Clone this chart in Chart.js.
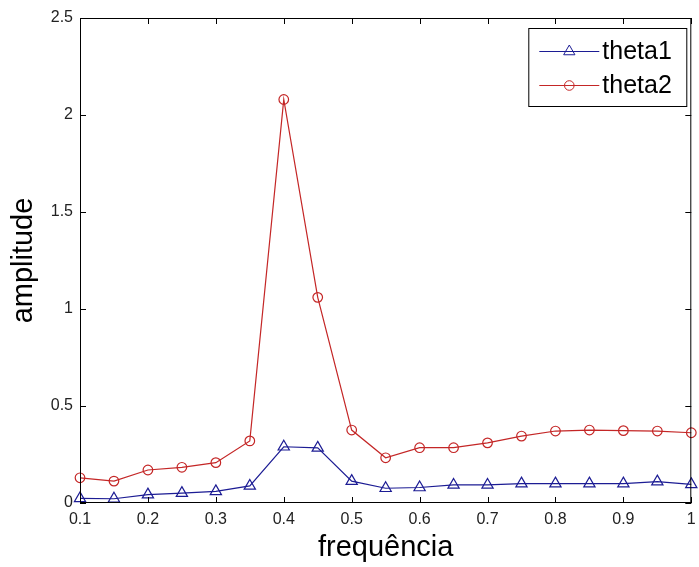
<!DOCTYPE html>
<html>
<head>
<meta charset="utf-8">
<script src="https://cdn.jsdelivr.net/npm/chart.js@4.4.0/dist/chart.umd.min.js"></script>
<style>
    body { margin: 0; background: #fff; }
    #wrap { width: 699px; height: 567px; }
</style>
</head>
<body>
<div id="wrap"><canvas id="grafico" width="699" height="567"></canvas></div>
<script>
// dados
const frequencia = [0.1, 0.15, 0.2, 0.25, 0.3, 0.35, 0.4, 0.45, 0.5, 0.55, 0.6, 0.65, 0.7, 0.75, 0.8, 0.85, 0.9, 0.95, 1.0];
const theta1 = [0.024, 0.022, 0.043, 0.051, 0.06, 0.088, 0.29, 0.284, 0.113, 0.076, 0.08, 0.093, 0.093, 0.1, 0.1, 0.1, 0.1, 0.11, 0.096];
const theta2 = [0.13, 0.113, 0.17, 0.184, 0.208, 0.32, 2.08, 1.06, 0.376, 0.233, 0.285, 0.285, 0.31, 0.345, 0.371, 0.376, 0.373, 0.371, 0.362];
const nomes = ['theta1', 'theta2'];

const xTicks = [0.1, 0.2, 0.3, 0.4, 0.5, 0.6, 0.7, 0.8, 0.9, 1.0];
const xTickLabels = ['0.1', '0.2', '0.3', '0.4', '0.5', '0.6', '0.7', '0.8', '0.9', '1'];
const yTicks = [0, 0.5, 1, 1.5, 2, 2.5];
const yTickLabels = ['0', '0.5', '1', '1.5', '2', '2.5'];

const azul = '#1c1c94';
const vermelho = '#c42626';

Chart.defaults.font.family = "'Liberation Sans', Arial, sans-serif";
Chart.defaults.color = '#222';

function pontos(ys) {
    return frequencia.map((f, i) => ({ x: f, y: ys[i] }));
}

// caixa e marcas para dentro (estilo matlab)
const moldura = {
    id: 'moldura',
    afterDraw(chart) {
        const ctx = chart.ctx;
        const a = chart.chartArea;
        const sx = chart.scales.x, sy = chart.scales.y;
        const tam = 6;
        ctx.save();
        ctx.strokeStyle = '#000';
        ctx.lineWidth = 1;
        ctx.strokeRect(a.left + 0.5, a.top + 0.5, a.right - a.left - 1, a.bottom - a.top - 1);
        ctx.beginPath();
        xTicks.forEach(v => {
            const px = Math.round(sx.getPixelForValue(v)) + 0.5;
            ctx.moveTo(px, a.bottom); ctx.lineTo(px, a.bottom - tam);
            ctx.moveTo(px, a.top); ctx.lineTo(px, a.top + tam);
        });
        yTicks.forEach(v => {
            const py = Math.round(sy.getPixelForValue(v)) + 0.5;
            ctx.moveTo(a.left, py); ctx.lineTo(a.left + tam, py);
            ctx.moveTo(a.right, py); ctx.lineTo(a.right - tam, py);
        });
        ctx.stroke();
        ctx.restore();
    }
};

// legenda com borda
const legenda = {
    id: 'legenda',
    afterDraw(chart) {
        const ctx = chart.ctx;
        const a = chart.chartArea;
        const w = 158, h = 78;
        const x0 = a.right - 5 - w, y0 = a.top + 10;
        ctx.save();
        ctx.fillStyle = '#fff';
        ctx.fillRect(x0, y0, w, h);
        ctx.strokeStyle = '#000';
        ctx.lineWidth = 1;
        ctx.strokeRect(x0 + 0.5, y0 + 0.5, w, h);
        chart.data.datasets.forEach((ds, i) => {
            const ly = y0 + 23 + i * 34 + 0.5;
            ctx.strokeStyle = ds.borderColor;
            ctx.lineWidth = 1;
            ctx.beginPath();
            ctx.moveTo(x0 + 11, ly);
            ctx.lineTo(x0 + 71, ly);
            ctx.stroke();
            ctx.fillStyle = 'rgba(0,0,0,0)';
            Chart.helpers.drawPoint(ctx, { pointStyle: ds.pointStyle, radius: ds.pointRadius, rotation: 0, borderWidth: 1 }, x0 + 41, ly);
            ctx.fillStyle = '#000';
            ctx.font = "25px 'Liberation Sans', Arial, sans-serif";
            ctx.textBaseline = 'middle';
            ctx.textAlign = 'left';
            ctx.fillText(ds.label, x0 + 74, ly + 1);
        });
        ctx.restore();
    }
};

const ctxG = document.getElementById('grafico').getContext('2d');
const grafico = new Chart(ctxG, {
    type: 'line',
    data: {
        datasets: [{
            label: nomes[0],
            data: pontos(theta1),
            borderColor: azul,
            backgroundColor: 'rgba(0,0,0,0)',
            borderWidth: 1.2,
            pointStyle: 'triangle',
            pointRadius: 6.5,
            pointBorderWidth: 1.2,
            pointBackgroundColor: 'rgba(0,0,0,0)',
            tension: 0,
            clip: false
        }, {
            label: nomes[1],
            data: pontos(theta2),
            borderColor: vermelho,
            backgroundColor: 'rgba(0,0,0,0)',
            borderWidth: 1.2,
            pointStyle: 'circle',
            pointRadius: 4.8,
            pointBorderWidth: 1.2,
            pointBackgroundColor: 'rgba(0,0,0,0)',
            tension: 0,
            clip: false
        }]
    },
    options: {
        responsive: false,
        animation: false,
        layout: { padding: { top: 18, right: 2, left: 0, bottom: 0 } },
        plugins: {
            legend: { display: false },
            tooltip: { enabled: false }
        },
        scales: {
            x: {
                type: 'linear',
                min: 0.1,
                max: 1,
                afterBuildTicks: s => { s.ticks = xTicks.map(v => ({ value: v })); },
                afterFit: s => { s.height = 64; s.paddingLeft = 0; s.paddingRight = 0; },
                ticks: {
                    callback: (v, i) => xTickLabels[i],
                    font: { size: 16 },
                    padding: 7,
                    maxRotation: 0,
                    autoSkip: false
                },
                grid: { display: false, drawTicks: false },
                border: { display: false },
                title: {
                    display: true,
                    text: 'frequência',
                    color: '#000',
                    font: { size: 29 },
                    padding: { top: 0, bottom: 2 }
                }
            },
            y: {
                type: 'linear',
                min: 0,
                max: 2.5,
                afterBuildTicks: s => { s.ticks = yTicks.map(v => ({ value: v })); },
                afterFit: s => { s.width = 80; s.paddingTop = 0; s.paddingBottom = 0; },
                ticks: {
                    callback: (v, i) => yTickLabels[i],
                    font: { size: 16 },
                    padding: 7,
                    autoSkip: false
                },
                grid: { display: false, drawTicks: false },
                border: { display: false },
                title: {
                    display: true,
                    text: 'amplitude',
                    color: '#000',
                    font: { size: 29 },
                    padding: { top: 7, bottom: 0 }
                }
            }
        }
    },
    plugins: [moldura, legenda]
});
</script>
</body>
</html>
